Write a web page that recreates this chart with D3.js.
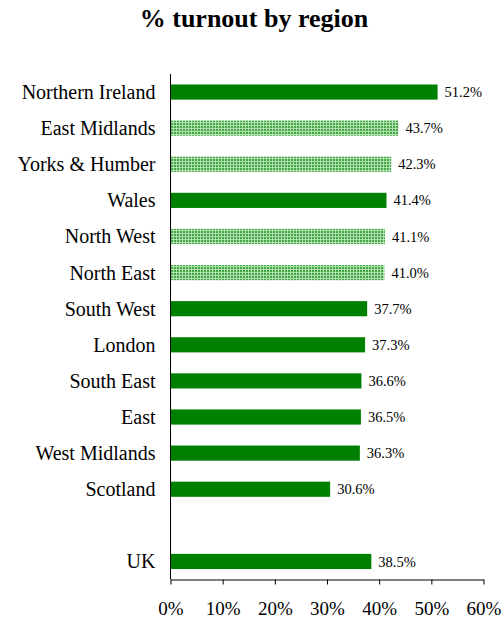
<!DOCTYPE html>
<html>
<head>
<meta charset="utf-8">
<script src="https://cdn.jsdelivr.net/npm/d3@7"></script>
<style>
  html, body { margin: 0; padding: 0; background: #fff; }
  svg { display: block; font-family: "Liberation Serif", "Times New Roman", serif; }
</style>
</head>
<body>
<svg id="chart" width="503" height="624"></svg>
<script>
const title = "% turnout by region";
const categories = ["Northern Ireland", "East Midlands", "Yorks & Humber", "Wales", "North West", "North East",
  "South West", "London", "South East", "East", "West Midlands", "Scotland", "", "UK"];
const values = [51.2, 43.7, 42.3, 41.4, 41.1, 41.0, 37.7, 37.3, 36.6, 36.5, 36.3, 30.6, null, 38.5];
const patterned = [false, true, true, false, true, true, false, false, false, false, false, false, false, false];
const xTicks = [0, 10, 20, 30, 40, 50, 60];

const svg = d3.select("#chart");
const mLeft = 170.5, mRight = 483.5, mTop = 74, mBottom = 579.5;

const x = d3.scaleLinear().domain([0, 60]).range([mLeft, mRight]);
const y = d3.scaleBand().domain(categories.map((c, i) => i)).range([mTop, mBottom])
  .paddingInner(0.58).paddingOuter(0.29);

const defs = svg.append("defs");
const pat = defs.append("pattern").attr("id", "dots").attr("patternUnits", "userSpaceOnUse")
  .attr("width", 3).attr("height", 3);
pat.append("rect").attr("width", 3).attr("height", 3).attr("fill", "#b0e0b0");
pat.append("rect").attr("x", 0).attr("y", 0).attr("width", 2).attr("height", 2).attr("fill", "#43a543");

svg.append("text").attr("x", 254).attr("y", 27).attr("text-anchor", "middle")
  .attr("font-size", 26).attr("font-weight", "bold").text(title);

const data = categories.map((c, i) => ({ c, i, v: values[i], p: patterned[i] })).filter(d => d.v !== null);

svg.selectAll("rect.bar").data(data).join("rect").attr("class", "bar")
  .attr("x", x(0)).attr("y", d => y(d.i))
  .attr("width", d => x(d.v) - x(0)).attr("height", y.bandwidth())
  .attr("fill", d => d.p ? "url(#dots)" : "#008000");

svg.selectAll("text.val").data(data).join("text").attr("class", "val")
  .attr("x", d => x(d.v) + 7).attr("y", d => y(d.i) + y.bandwidth() / 2)
  .attr("dy", "0.35em").attr("font-size", 14.5).text(d => d.v.toFixed(1) + "%");

svg.selectAll("text.cat").data(data).join("text").attr("class", "cat")
  .attr("x", mLeft - 15).attr("y", d => y(d.i) + y.bandwidth() / 2)
  .attr("dy", "0.35em").attr("text-anchor", "end").attr("font-size", 20).text(d => d.c);

svg.append("line").attr("x1", mLeft).attr("x2", mLeft).attr("y1", mTop).attr("y2", mBottom)
  .attr("stroke", "#000").attr("stroke-width", 1);

const xAxis = d3.axisBottom(x).tickValues(xTicks).tickFormat(d => d + "%").tickSize(5).tickSizeOuter(0);
const gx = svg.append("g").attr("transform", `translate(0,${mBottom})`).call(xAxis);
gx.select(".domain").attr("stroke", "#000");
gx.selectAll(".tick line").attr("stroke", "#000");
gx.selectAll(".tick text").attr("font-size", 19).attr("font-family", "Liberation Serif, serif")
  .attr("fill", "#000").attr("y", 22);
</script>
</body>
</html>
